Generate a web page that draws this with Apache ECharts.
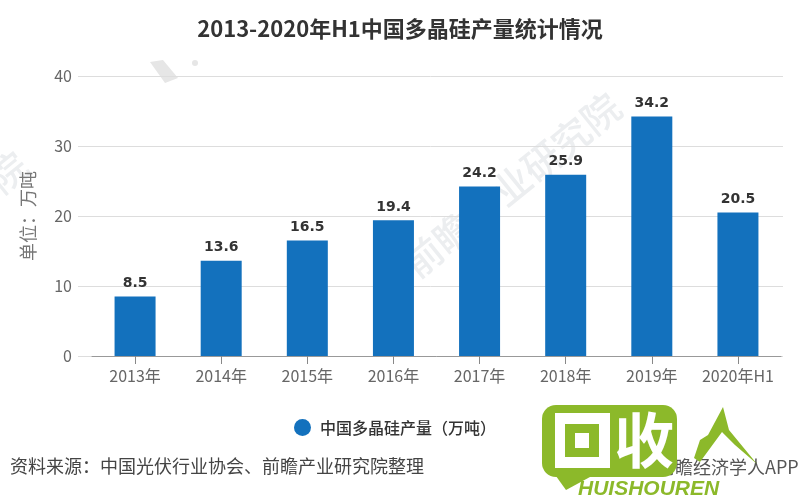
<!DOCTYPE html>
<html>
<head>
<meta charset="utf-8">
<script src="https://cdn.jsdelivr.net/npm/echarts@6/dist/echarts.min.js"></script>
<style>
  html, body { margin: 0; padding: 0; background: #fff; }
  #main { width: 800px; height: 500px; }
</style>
</head>
<body>
<div id="main"></div>
<script>
const categories = ['2013年', '2014年', '2015年', '2016年', '2017年', '2018年', '2019年', '2020年H1'];
const output = [8.5, 13.6, 16.5, 19.4, 24.2, 25.9, 34.2, 20.5];
const seriesName = '中国多晶硅产量（万吨）';
const FONT = '"Noto Sans CJK SC", sans-serif';
const GREEN = '#8cb92a';

const chart = echarts.init(document.getElementById('main'));

// 水印
function watermark(text, x, y, size) {
  return {
    type: 'text', x, y, rotation: 0.68, z: 0, silent: true,
    style: { text, fill: '#eceef0', font: '500 ' + size + 'px ' + FONT, align: 'center', verticalAlign: 'middle' },
  };
}

chart.setOption({
  animation: false,
  backgroundColor: '#fff',
  textStyle: { fontFamily: FONT },
  title: {
    text: '2013-2020年H1中国多晶硅产量统计情况',
    left: 'center',
    top: 13,
    textStyle: { fontSize: 22, fontWeight: 'bold', color: '#333', fontFamily: FONT },
  },
  legend: {
    top: 414,
    left: 289,
    icon: 'circle',
    itemWidth: 17,
    itemHeight: 17,
    itemGap: 8,
    textStyle: { fontSize: 16, fontWeight: 500, color: '#333', padding: [0, 0, 0, 4] },
    data: [seriesName],
  },
  // 第一个 grid 只画网格线，比柱子的坐标区更宽
  grid: [
    { left: 78, right: 17, top: 76, bottom: 144 },
    { left: 92, right: 19, top: 76, bottom: 144 },
  ],
  xAxis: [
    { gridIndex: 0, type: 'category', data: categories, show: false },
    {
      gridIndex: 1,
      type: 'category',
      data: categories,
      axisLine: { show: true, lineStyle: { color: '#999' } },
      axisTick: { show: true, alignWithLabel: true, length: 8, lineStyle: { color: '#888', width: 1 } },
      axisLabel: { interval: 0, hideOverlap: false, fontSize: 16, color: '#666', margin: 12 },
    },
  ],
  yAxis: [
    {
      gridIndex: 0,
      type: 'value',
      min: 0,
      max: 40,
      interval: 10,
      name: '单位：万吨',
      nameLocation: 'middle',
      nameGap: 41,
      nameTextStyle: { fontSize: 18, color: '#777' },
      axisLine: { show: false },
      axisTick: { show: false },
      axisLabel: { fontSize: 16, color: '#666', margin: 6 },
      splitLine: { lineStyle: { color: '#ddd' } },
    },
    {
      gridIndex: 1,
      type: 'value',
      min: 0,
      max: 40,
      interval: 10,
      show: false,
      splitLine: { show: false },
    },
  ],
  series: [
    {
      name: seriesName,
      type: 'bar',
      xAxisIndex: 1,
      yAxisIndex: 1,
      data: output,
      barWidth: 41,
      itemStyle: { color: '#1371bd' },
      label: {
        show: true,
        position: 'top',
        distance: 6,
        fontSize: 14,
        fontWeight: 'bold',
        color: '#333',
        fontFamily: '"DejaVu Sans", sans-serif',
      },
    },
  ],
  graphic: [
    watermark('前瞻产业研究院', 512, 185, 38),
    watermark('院', 8, 172, 38),
    { type: 'polygon', z: 0, silent: true, shape: { points: [[150, 62], [163, 60], [178, 78], [165, 83]] }, style: { fill: '#e6e6e6' } },
    { type: 'circle', z: 0, silent: true, shape: { cx: 195, cy: 63, r: 3 }, style: { fill: '#e6e6e6' } },
    {
      type: 'text', left: 10, top: 457,
      style: { text: '资料来源：中国光伏行业协会、前瞻产业研究院整理', fill: '#444', font: '18px ' + FONT },
    },
    {
      type: 'text', left: 640, top: 458,
      style: { text: '@前瞻经济学人APP', fill: '#555', font: '18px ' + FONT },
    },
    // 右下角绿色角标
    {
      type: 'group', z: 100,
      children: [
        { type: 'rect', shape: { x: 542, y: 405, width: 135, height: 72, r: 14 }, style: { fill: GREEN } },
        { type: 'polygon', shape: { points: [[548, 465], [590, 477], [566, 490]] }, style: { fill: GREEN } },
        { type: 'rect', shape: { x: 555, y: 413, width: 55, height: 55 }, style: { fill: '#fff' } },
        { type: 'rect', shape: { x: 565, y: 424, width: 34, height: 33 }, style: { fill: GREEN } },
        { type: 'rect', shape: { x: 575, y: 433, width: 14, height: 15 }, style: { fill: '#fff' } },
        { type: 'text', x: 644, y: 440, style: { text: '收', fill: '#fff', font: 'bold 60px ' + FONT, align: 'center', verticalAlign: 'middle' } },
        { type: 'polygon', shape: { points: [[723, 407], [729, 430], [757, 464], [735, 445], [722, 432], [700, 462], [694, 458], [700, 440], [708, 435]] }, style: { fill: GREEN } },
        { type: 'text', x: 578, y: 479, style: { text: 'HUISHOUREN', fill: GREEN, font: 'italic 900 21px "Liberation Sans"' } },
      ],
    },
  ],
});
</script>
</body>
</html>
